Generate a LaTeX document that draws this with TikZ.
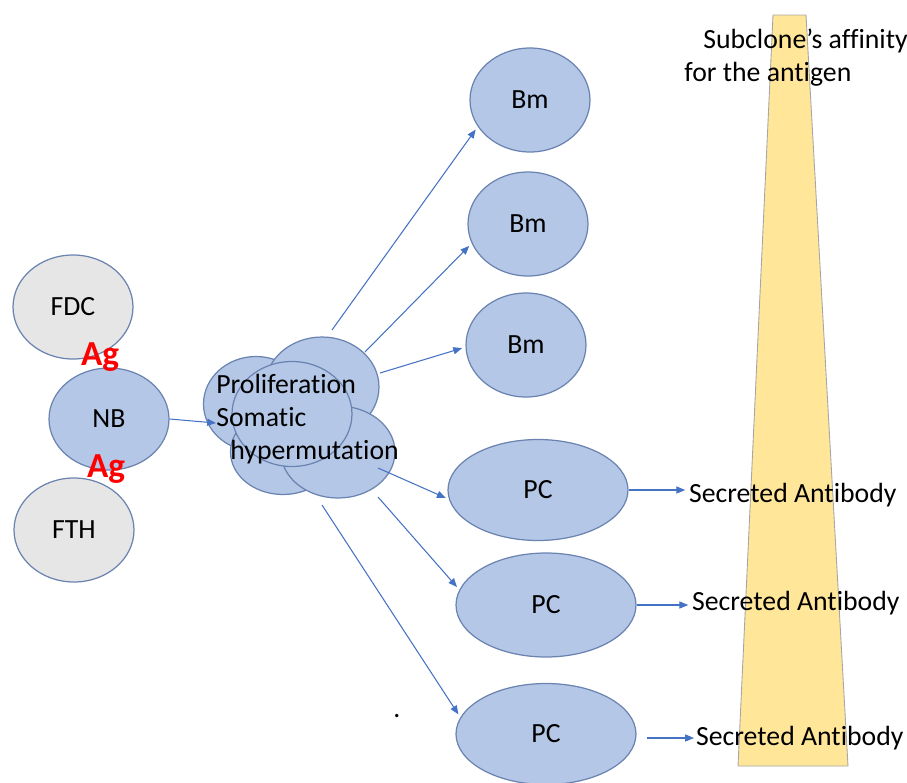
\documentclass[tikz,border=0pt]{standalone}
\usepackage{fontspec}
\setmainfont{Carlito}[Ligatures=NoCommon]
\usetikzlibrary{arrows.meta,shapes.geometric}
\definecolor{CellBlue}{HTML}{B4C7E7}
\definecolor{CellGray}{HTML}{E7E6E6}
\definecolor{CellEdge}{HTML}{6A83B0}
\definecolor{ArrowBlue}{HTML}{4472C4}
\definecolor{Affinity}{HTML}{FFE699}
\begin{document}
\begin{tikzpicture}[
      x=0.02cm,y=-0.02cm,
      font=\fontsize{15.8}{18.7}\selectfont,
      cell/.style={
        ellipse,
        draw=CellEdge,
        line width=0.7pt,
        fill=CellBlue,
        inner sep=0pt,
        minimum width=2.4cm,
        minimum height=2.08cm
      },
      stromal/.style={cell,fill=CellGray},
      plasma/.style={cell,minimum width=3.6cm,minimum height=2.02cm},
      antigen/.style={text=red,font=\fontsize{20}{24}\selectfont\bfseries},
      flow/.style={
        draw=ArrowBlue,
        line width=0.6pt,
        -{Triangle[length=5pt,width=4pt]},
        shorten >=2pt
      }
    ]
      \useasboundingbox (0,0) rectangle (907,782);
      % affinity gradient
      \fill[Affinity,draw=gray!70,line width=0.5pt]
        (773,15) -- (806,15) -- (848,766) -- (738,766) -- cycle;
      \node[anchor=north west,align=left,inner sep=0pt] (affinity) at (684,29)
        {\hspace{10.8pt}Subclone’s affinity\\for the antigen};

      \node[stromal] (fdc) at (73,307) {FDC};
      \node[stromal] (fth) at (74,530) {FTH};
      \node[cell,minimum height=2.04cm] (nb) at (109,419) {NB};
      \node[antigen] (agTop) at (100,357) {Ag};
      \node[antigen] (agBottom) at (106,469) {Ag};

      % proliferating clone
      \node[cell,minimum width=2.1cm,minimum height=1.9cm] (cloneA) at (256,404) {};
      \node[cell,minimum width=2.28cm,minimum height=2cm] (cloneB) at (322,387) {};
      \node[cell,minimum width=2.1cm,minimum height=1.7cm] (cloneE) at (283,452) {};
      \node[cell,minimum width=2.28cm,minimum height=1.84cm] (cloneD) at (338,452) {};
      \node[cell,minimum width=2.4cm,minimum height=2.1cm] (cloneC) at (292,414) {};
      \node[anchor=west,align=left,inner sep=0pt] (prolif) at (216,419)
        {Proliferation\\Somatic\\\hspace{8pt}hypermutation};

      \node[cell] (bm1) at (530,100) {Bm};
      \node[cell] (bm2) at (528,224) {Bm};
      \node[cell] (bm3) at (526,345) {Bm};
      \node[plasma] (pc1) at (538,490) {PC};
      \node[plasma,minimum height=2.08cm] (pc2) at (546,605) {PC};
      \node[plasma] (pc3) at (546,734) {PC};

      \node[anchor=west,inner sep=1pt] (ab1) at (687,495) {Secreted Antibody};
      \node[anchor=west,inner sep=1pt] (ab2) at (690,603) {Secreted Antibody};
      \node[anchor=west,inner sep=1pt] (ab3) at (694,738) {Secreted Antibody};
      \node[inner sep=0pt] (stray) at (397,716) {.};

      \coordinate (entry) at (216,423);
      \coordinate (fan1) at (332,330);
      \coordinate (fan2) at (365,352);
      \coordinate (fan3) at (380,373);
      \coordinate (fan4) at (378,468);
      \coordinate (fan5) at (378,497);
      \coordinate (fan6) at (322,505);

      \draw[flow,shorten >=0pt] (nb.east) -- (entry);
      \draw[flow] (fan1) -- (bm1.207);
      \draw[flow] (fan2) -- (bm2.199);
      \draw[flow] (fan3) -- (bm3.182);
      \draw[flow] (fan4) -- (pc1.186);
      \draw[flow] (fan5) -- (pc2.170);
      \draw[flow] (fan6) -- (pc3.169);

      \draw[flow,shorten >=1pt] (pc1.east) -- (pc1.east -| ab1.west);
      \draw[flow,shorten >=1pt] (pc2.east) -- (pc2.east -| ab2.west);
      \draw[flow,shorten >=0pt,shorten <=6pt] (pc3.east |- ab3.west) -- (ab3.west);
    \end{tikzpicture}
\end{document}
